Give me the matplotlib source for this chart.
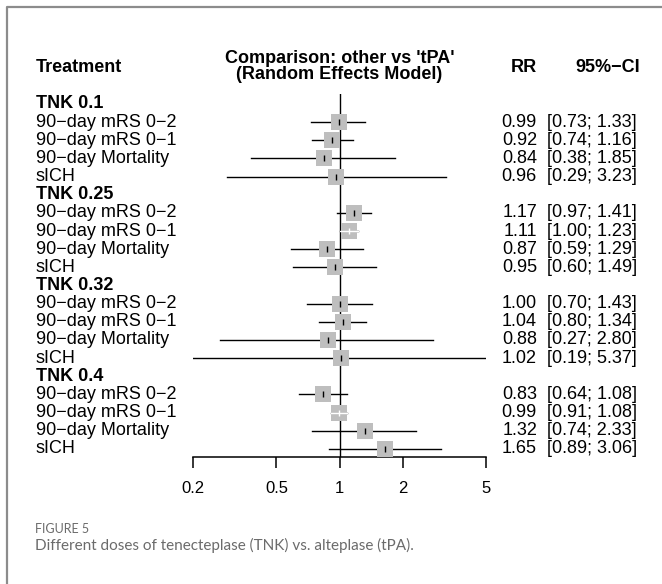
import numpy as np
import matplotlib
matplotlib.use('Agg')
import matplotlib.pyplot as plt
import matplotlib.transforms as mtransforms
from matplotlib.lines import Line2D

groups = ['TNK 0.1', 'TNK 0.25', 'TNK 0.32', 'TNK 0.4']
outcomes = ['90\u2212day mRS 0\u22122', '90\u2212day mRS 0\u22121',
            '90\u2212day Mortality', 'sICH']
rr = [[0.99, 0.92, 0.84, 0.96],
      [1.17, 1.11, 0.87, 0.95],
      [1.00, 1.04, 0.88, 1.02],
      [0.83, 0.99, 1.32, 1.65]]
lower = [[0.73, 0.74, 0.38, 0.29],
         [0.97, 1.00, 0.59, 0.60],
         [0.70, 0.80, 0.27, 0.19],
         [0.64, 0.91, 0.74, 0.89]]
upper = [[1.33, 1.16, 1.85, 3.23],
         [1.41, 1.23, 1.29, 1.49],
         [1.43, 1.34, 2.80, 5.37],
         [1.08, 1.08, 2.33, 3.06]]
xticks = [0.2, 0.5, 1, 2, 5]

plt.rcParams['font.family'] = ['Liberation Sans', 'DejaVu Sans']

W, H = 662, 584
fig = plt.figure(figsize=(W / 100, H / 100), dpi=100)
fig.patch.set_facecolor('white')

# forest panel, pixel layout
ax = fig.add_axes([193 / W, 1 - 457 / H, (486 - 193) / W, (457 - 94) / H])
ax.set_xscale('log')
ax.set_xlim(0.2, 5)
ax.set_ylim(19.45, -0.55)

trans = mtransforms.blended_transform_factory(fig.transFigure, ax.transData)
fs = 13
sq = 11.2        # square side in points
half = sq / 72 * 100 / ((486 - 193) / np.log10(25)) / 2  # half side in log10 units

ax.axvline(1, color='black', lw=1.0, zorder=1)

row = 0
for g, name in enumerate(groups):
    ax.text(36 / W, row, name, transform=trans, fontsize=fs, fontweight='bold',
            va='center', ha='left')
    row += 1
    for k, lab in enumerate(outcomes):
        est, lo, hi = rr[g][k], lower[g][k], upper[g][k]
        ax.text(36 / W, row, lab, transform=trans, fontsize=fs, va='center', ha='left')
        ax.text(537 / W, row, '%.2f' % est, transform=trans, fontsize=fs,
                va='center', ha='right')
        ax.text(637 / W, row, '[%.2f; %.2f]' % (lo, hi), transform=trans,
                fontsize=fs, va='center', ha='right')
        ax.plot([lo, hi], [row, row], color='black', lw=1.0, zorder=2)
        ax.plot(est, row, marker='s', ms=sq, color='#bebebe', mew=0, zorder=3)
        # CI mostly hidden by the square -> draw it in white
        inside = (np.log10(hi) - np.log10(lo)) / 2 < half * 1.3
        c = 'white' if inside else 'black'
        if inside:
            ax.plot([lo, hi], [row, row], color='white', lw=1.0, zorder=4)
        ax.plot(est, row, marker='|', ms=5, mew=1.0, color=c, zorder=5)
        row += 1

# header
ax.text(36 / W, -2.0, 'Treatment', transform=trans, fontsize=fs, fontweight='bold',
        va='center', ha='left')
ax.text(339.5 / W, -2.05, 'Comparison: other vs \'tPA\'\n(Random Effects Model)',
        transform=trans, fontsize=fs, fontweight='bold', va='center', ha='center',
        linespacing=0.95)
ax.text(524 / W, -2.0, 'RR', transform=trans, fontsize=fs, fontweight='bold',
        va='center', ha='center')
ax.text(640 / W, -2.0, '95%\u2212CI', transform=trans, fontsize=fs, fontweight='bold',
        va='center', ha='right')

for s in ['top', 'right', 'left']:
    ax.spines[s].set_visible(False)
ax.spines['bottom'].set_linewidth(1.1)
ax.set_yticks([])
ax.set_xticks(xticks)
ax.set_xticklabels([('%g' % t) for t in xticks])
ax.minorticks_off()
ax.tick_params(axis='x', direction='out', length=8, width=1.1, pad=9, labelsize=12)
ax.patch.set_alpha(0)

# caption
fig.text(35 / W, 1 - 529 / H, 'FIGURE 5', fontsize=9, color='#6b6b6b',
         family=['Lato', 'DejaVu Sans'], va='center')
fig.text(35 / W, 1 - 545 / H,
         'Different doses of tenecteplase (TNK) vs. alteplase (tPA).',
         fontsize=11, color='#6b6b6b', family=['Lato', 'DejaVu Sans'], va='center')

# page frame
fig.add_artist(Line2D([7 / W, 7 / W, 1], [0, 1 - 7 / H, 1 - 7 / H],
                      transform=fig.transFigure, color='#8c8c8c', lw=1.6))

fig.savefig('out.png', dpi=100)
